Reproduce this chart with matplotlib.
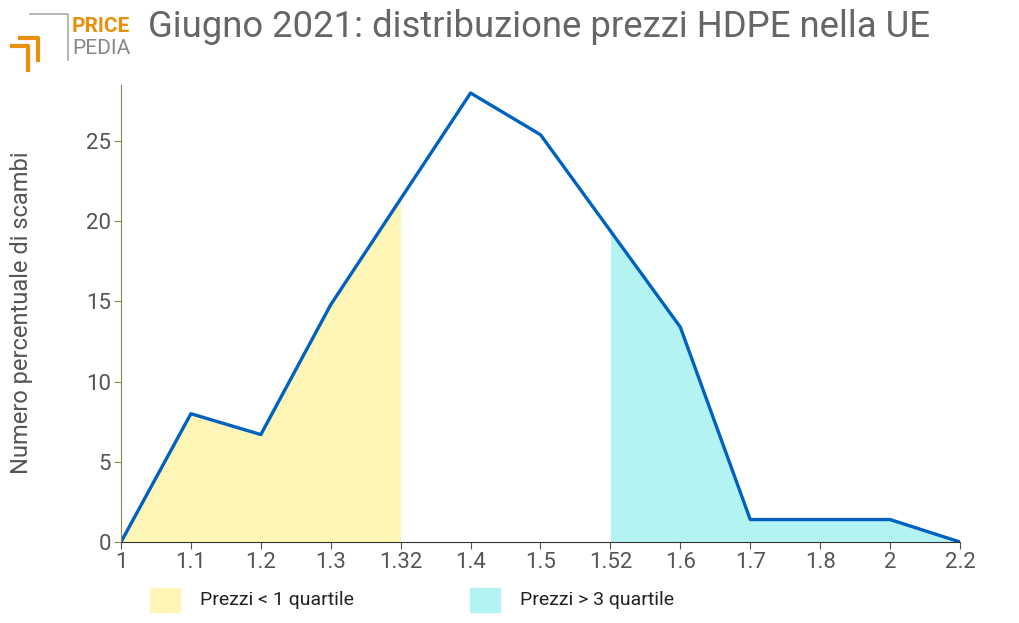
import matplotlib
matplotlib.use("Agg")
import matplotlib.pyplot as plt
from matplotlib.patches import Rectangle

labels = ["1","1.1","1.2","1.3","1.32","1.4","1.5","1.52","1.6","1.7","1.8","2","2.2"]
values = [0, 8.0, 6.7, 14.8, 21.4, 28.0, 25.4, 19.4, 13.4, 1.4, 1.4, 1.4, 0]
low_end = 4    # index of 1.32
high_start = 7 # index of 1.52

plt.rcParams['font.family'] = ['Roboto', 'DejaVu Sans']
fig = plt.figure(figsize=(10.2, 6.23), dpi=100)
ax = fig.add_axes([121/1020, 1-542/623, (960-121)/1020, (542-85)/623])
x = list(range(len(labels)))
ax.fill_between(x[:low_end+1], values[:low_end+1], color="#fef5b6", lw=0)
ax.fill_between(x[high_start:], values[high_start:], color="#b3f4f2", lw=0)
ax.plot(x, values, color="#0062c0", lw=2.4)
ax.set_xlim(0, len(labels)-1)
ax.set_ylim(0, 28.5)
ax.set_xticks(x)
ax.set_xticklabels(labels)
ax.set_yticks([0,5,10,15,20,25])
for s in ["top","right"]:
    ax.spines[s].set_visible(False)
ax.spines["left"].set_color("#8a8a40")
ax.spines["left"].set_linewidth(0.8)
ax.spines["bottom"].set_color("#333333")
ax.tick_params(labelsize=16, colors="#555555", length=5, pad=2)
ax.tick_params(axis="y", length=5, color="#8a8a40")
fig.text(22/1020, 1-313/623, "Numero percentuale di scambi", fontsize=17, color="#555555",
         rotation=90, ha="center", va="center")

# legend
fig.patches.append(Rectangle((150/1020, 1-612/623), 30/1020, 24/623, transform=fig.transFigure, color="#fef5b6"))
fig.text(200/1020, 1-600/623, "Prezzi < 1 quartile", fontsize=14, color="#222222", va="center")
fig.patches.append(Rectangle((470/1020, 1-612/623), 30/1020, 24/623, transform=fig.transFigure, color="#b3f4f2"))
fig.text(520/1020, 1-600/623, "Prezzi > 3 quartile", fontsize=14, color="#222222", va="center")

# title and logo
fig.text(148/1020, 1-27/623, "Giugno 2021: distribuzione prezzi HDPE nella UE", fontsize=26.3, color="#666666", va="center")
fig.text(72/1020, 1-26/623, "PRICE", fontsize=15, color="#e8900a", fontweight="bold", va="center")
fig.text(72/1020, 1-48/623, "PEDIA", fontsize=15, color="#888888", va="center")
fig.add_artist(plt.Line2D([12/1020, 28/1020, 28/1020], [1-46/623, 1-46/623, 1-70/623], color="#e8900a", lw=3, transform=fig.transFigure))
fig.add_artist(plt.Line2D([20/1020, 38/1020, 38/1020], [1-38/623, 1-38/623, 1-60/623], color="#e8900a", lw=3, transform=fig.transFigure))
fig.add_artist(plt.Line2D([30/1020, 68/1020, 68/1020], [1-14/623, 1-14/623, 1-60/623], color="#aaaaaa", lw=1.2, transform=fig.transFigure))
fig.savefig("out.png", dpi=100)
